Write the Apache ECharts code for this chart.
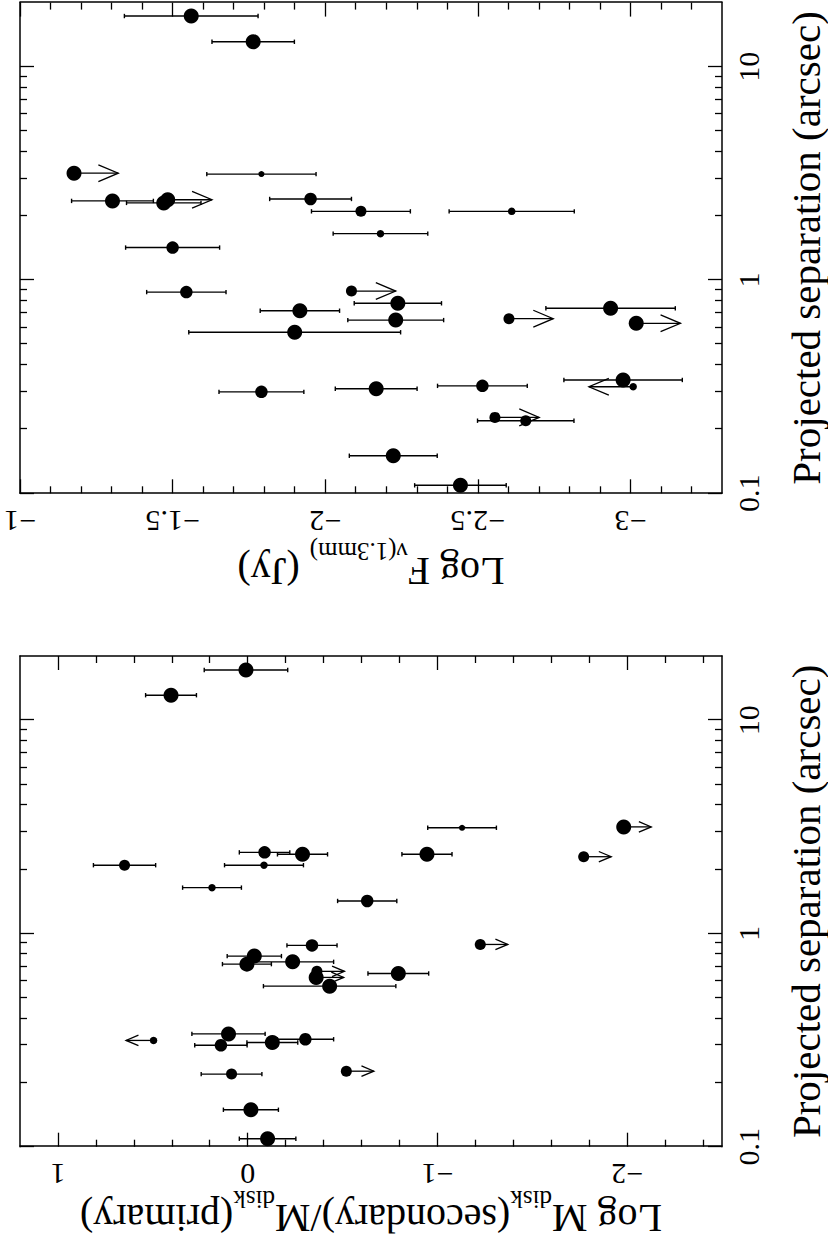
<!DOCTYPE html>
<html>
<head>
<meta charset="utf-8">
<script src="https://cdn.jsdelivr.net/npm/echarts@6/dist/echarts.min.js"></script>
<style>
  html, body { margin: 0; padding: 0; width: 828px; height: 1240px; overflow: hidden; background: #fff; }
  /* the figure is drawn landscape and turned a quarter turn, as in the original page */
  #page { position: absolute; left: 0; top: 0; width: 1240px; height: 828px;
          transform-origin: 0 0; transform: translateY(1240px) rotate(-90deg); }
</style>
</head>
<body>
<div id="page"></div>
<script>
// ---- data ----
// right panel: Log F_nu(1.3mm) vs projected separation
const fluxSep = [17.3, 13.1, 3.17, 3.14, 2.35, 2.30, 2.38, 2.40, 2.10, 2.10, 1.65, 1.42, 0.878, 0.888, 0.778,
                 0.718, 0.649, 0.569, 0.737, 0.659, 0.627, 0.340, 0.316, 0.319, 0.309, 0.299, 0.227, 0.219, 0.150, 0.109];
const fluxVal = [-1.561, -1.764, -1.177, -1.791, -1.303, -1.471, -1.484, -1.952, -2.117, -2.611, -2.181, -1.500, -1.545, -2.086, -2.238,
                 -1.917, -2.231, -1.900, -2.935, -2.602, -3.019, -2.976, -3.009, -2.515, -2.167, -1.791, -2.556, -2.657, -2.223, -2.443];
const fluxErr = [0.219, 0.135, null, 0.179, 0.134, 0.122, null, 0.134, 0.162, 0.205, 0.155, 0.154, 0.130, null, 0.143,
                 0.130, 0.157, 0.347, 0.212, null, null, 0.194, null, 0.147, 0.134, 0.139, null, 0.158, 0.144, 0.150];
// limit direction: -1 upper limit, 1 lower limit, 0 detection
const fluxLim = [0, 0, -1, 0, 0, 0, -1, 0, 0, 0, 0, 0, 0, -1, 0, 0, 0, 0, 0, -1, -1, 0, 1, 0, 0, 0, -1, 0, 0, 0];
// marker class (1 smallest .. 5 largest)
const fluxCls = [5, 5, 5, 1, 5, 5, 5, 4, 3, 2, 2, 4, 4, 3, 5, 5, 5, 5, 5, 3, 5, 5, 2, 4, 5, 4, 3, 3, 5, 5];

// left panel: Log Mdisk(secondary)/Mdisk(primary) vs projected separation
const ratioSep = [17.2, 13.1, 2.40, 2.35, 2.35, 2.09, 2.09, 1.64, 1.42, 3.13, 3.16, 2.29, 0.879, 0.783, 0.718,
                  0.736, 0.664, 0.622, 0.566, 0.649, 0.338, 0.315, 0.299, 0.308, 0.319, 0.219, 0.226, 0.149, 0.109, 0.888];
const ratioVal = [0.009, 0.404, -0.089, -0.289, -0.945, 0.649, -0.086, 0.188, -0.630, -1.130, -1.982, -1.771, -0.339, -0.035, 0.004,
                  -0.237, -0.365, -0.361, -0.432, -0.794, 0.101, 0.496, 0.141, -0.130, -0.304, 0.085, -0.520, -0.017, -0.105, -1.226];
const ratioErr = [0.220, 0.134, 0.133, 0.132, 0.132, 0.164, 0.208, 0.155, 0.156, 0.181, null, null, 0.132, 0.143, 0.129,
                  0.216, null, null, 0.349, 0.160, 0.193, null, 0.138, 0.134, 0.149, 0.160, null, 0.145, 0.149, null];
const ratioLim = [0, 0, 0, 0, 0, 0, 0, 0, 0, 0, -1, -1, 0, 0, 0, 0, -1, -1, 0, 0, 0, 1, 0, 0, 0, 0, -1, 0, 0, -1];
const ratioCls = [5, 5, 4, 5, 5, 3, 2, 2, 4, 1, 5, 3, 4, 5, 5, 5, 3, 5, 5, 5, 5, 2, 4, 5, 4, 3, 3, 5, 5, 3];

// ticks
const sepMajor = [0.1, 1, 10];
const sepMinor = [0.2, 0.3, 0.4, 0.5, 0.6, 0.7, 0.8, 0.9, 2, 3, 4, 5, 6, 7, 8, 9];
const fluxMajor = [-3, -2.5, -2, -1.5, -1];
const fluxMinor = [-3.2, -3.1, -2.9, -2.8, -2.7, -2.6, -2.4, -2.3, -2.2, -2.1, -1.9, -1.8, -1.7, -1.6, -1.4, -1.3, -1.2, -1.1];
const ratioMajor = [-2, -1, 0, 1];
const ratioMinor = [-2.4, -2.2, -1.8, -1.6, -1.4, -1.2, -0.8, -0.6, -0.4, -0.2, 0.2, 0.4, 0.6, 0.8];

// ---- styling ----
const FONT = 'Liberation Serif';
const SIZE_PX = [0, 6, 7.5, 11, 12.5, 15];
const ARROW_DEX = 0.145;   // limit arrows span this much in log units
const frameLine = { show: true, onZero: false, lineStyle: { color: '#000', width: 1.5 } };
const hiddenLine = { show: false, onZero: false };

function minus(v) { return v < 0 ? '\u2212' + Math.abs(v) : String(v); }

function tick(len, vals) {
  return { show: true, inside: true, length: len, customValues: vals, lineStyle: { color: '#000', width: 1.3 } };
}

function sepAxes(gi) {
  const base = { gridIndex: gi, type: 'log', logBase: 10, min: 0.1, max: 20,
                 splitLine: { show: false }, axisLine: hiddenLine, axisLabel: { show: false } };
  return [
    Object.assign({}, base, {
      position: 'bottom', axisLine: frameLine, axisTick: tick(14, sepMajor),
      axisLabel: { show: true, customValues: sepMajor, margin: 11, fontSize: 30, fontFamily: FONT, color: '#000',
                   formatter: v => (v < 1 ? v.toFixed(1) : String(Math.round(v))) },
      name: 'Projected separation (arcsec)', nameLocation: 'middle', nameGap: 63, nameMoveOverlap: false,
      nameTextStyle: { fontSize: 41, fontFamily: FONT, color: '#000' }
    }),
    Object.assign({}, base, { position: 'bottom', axisTick: tick(7, sepMinor) }),
    Object.assign({}, base, { position: 'top', axisLine: frameLine, axisTick: tick(14, sepMajor) }),
    Object.assign({}, base, { position: 'top', axisTick: tick(7, sepMinor) })
  ];
}

function valAxes(gi, min, max, major, minor, name, gap) {
  const base = { gridIndex: gi, type: 'value', min: min, max: max,
                 splitLine: { show: false }, axisLine: hiddenLine, axisLabel: { show: false } };
  // main text sits at the top of a taller line, the subscript at its bottom
  const rich = {
    n: { fontSize: 40, fontFamily: FONT, color: '#000', lineHeight: 40, verticalAlign: 'top' },
    s: { fontSize: 25, fontFamily: FONT, color: '#000', lineHeight: 52, verticalAlign: 'bottom' }
  };
  return [
    Object.assign({}, base, {
      position: 'left', axisLine: frameLine, axisTick: tick(14, major),
      axisLabel: { show: true, customValues: major, rotate: 90, margin: 13, fontSize: 30, fontFamily: FONT,
                   color: '#000', formatter: minus },
      name: name, nameLocation: 'middle', nameGap: gap, nameMoveOverlap: false,
      nameTextStyle: { rich: rich }
    }),
    Object.assign({}, base, { position: 'left', axisTick: tick(7, minor) }),
    Object.assign({}, base, { position: 'right', axisLine: frameLine, axisTick: tick(14, major) }),
    Object.assign({}, base, { position: 'right', axisTick: tick(7, minor) })
  ];
}

function errorBarItem(params, api) {
  const p0 = api.coord([api.value(0), api.value(1)]);
  const p1 = api.coord([api.value(0), api.value(2)]);
  const st = { stroke: '#000', lineWidth: 1.4 };
  const c = 2.2;
  return { type: 'group', children: [
    { type: 'line', shape: { x1: p0[0], y1: p0[1], x2: p1[0], y2: p1[1] }, style: st },
    { type: 'line', shape: { x1: p0[0] - c, y1: p0[1], x2: p0[0] + c, y2: p0[1] }, style: st },
    { type: 'line', shape: { x1: p1[0] - c, y1: p1[1], x2: p1[0] + c, y2: p1[1] }, style: st }
  ] };
}

function arrowItem(params, api) {
  const p0 = api.coord([api.value(0), api.value(1)]);
  const p1 = api.coord([api.value(0), api.value(2)]);
  const dx = p1[0] - p0[0], dy = p1[1] - p0[1];
  const L = Math.sqrt(dx * dx + dy * dy) || 1;
  const ux = dx / L, uy = dy / L;
  const h = 0.45 * L, w = 0.19 * L;
  const bx = p1[0] - ux * h, by = p1[1] - uy * h;
  const st = { stroke: '#000', lineWidth: 1.3, fill: null };
  return { type: 'group', children: [
    { type: 'line', shape: { x1: p0[0], y1: p0[1], x2: p1[0], y2: p1[1] }, style: st },
    { type: 'polyline', shape: { points: [[bx - uy * w, by + ux * w], [p1[0], p1[1]], [bx + uy * w, by - ux * w]] }, style: st }
  ] };
}

function panelSeries(xi, yi, sep, val, err, lim, cls) {
  const bars = [], arrows = [], pts = [];
  sep.forEach((s, i) => {
    if (err[i] != null) bars.push([s, val[i] - err[i], val[i] + err[i]]);
    if (lim[i] !== 0) arrows.push([s, val[i], val[i] + lim[i] * ARROW_DEX]);
    pts.push([s, val[i], cls[i]]);
  });
  return [
    { type: 'custom', xAxisIndex: xi, yAxisIndex: yi, data: bars, renderItem: errorBarItem,
      encode: { x: 0, y: [1, 2] }, silent: true, z: 2 },
    { type: 'custom', xAxisIndex: xi, yAxisIndex: yi, data: arrows, renderItem: arrowItem,
      encode: { x: 0, y: [1, 2] }, silent: true, z: 2 },
    { type: 'scatter', xAxisIndex: xi, yAxisIndex: yi, data: pts, symbol: 'circle',
      symbolSize: v => SIZE_PX[v[2]], itemStyle: { color: '#000', opacity: 1 }, silent: true, z: 3 }
  ];
}

const chart = echarts.init(document.getElementById('page'), null, { renderer: 'svg', width: 1240, height: 828 });

const option = {
  animation: false,
  backgroundColor: '#fff',
  grid: [
    { left: 93.3, top: 20, width: 490.7, height: 702, outerBoundsMode: 'none', containLabel: false },
    { left: 746.7, top: 20, width: 490.7, height: 702, outerBoundsMode: 'none', containLabel: false }
  ],
  xAxis: sepAxes(0).concat(sepAxes(1)),
  yAxis: valAxes(0, -2.5, 1.2, ratioMajor, ratioMinor,
                 '{n|Log M}{s|disk}{n|(secondary)/M}{s|disk}{n|(primary)}', 40)
    .concat(valAxes(1, -3.3, -1, fluxMajor, fluxMinor, '{n|Log F}{s|\u03bd(1.3mm)}{n| (Jy)}', 46)),
  series: panelSeries(0, 0, ratioSep, ratioVal, ratioErr, ratioLim, ratioCls)
    .concat(panelSeries(4, 4, fluxSep, fluxVal, fluxErr, fluxLim, fluxCls))
};

chart.setOption(option);
</script>
</body>
</html>
